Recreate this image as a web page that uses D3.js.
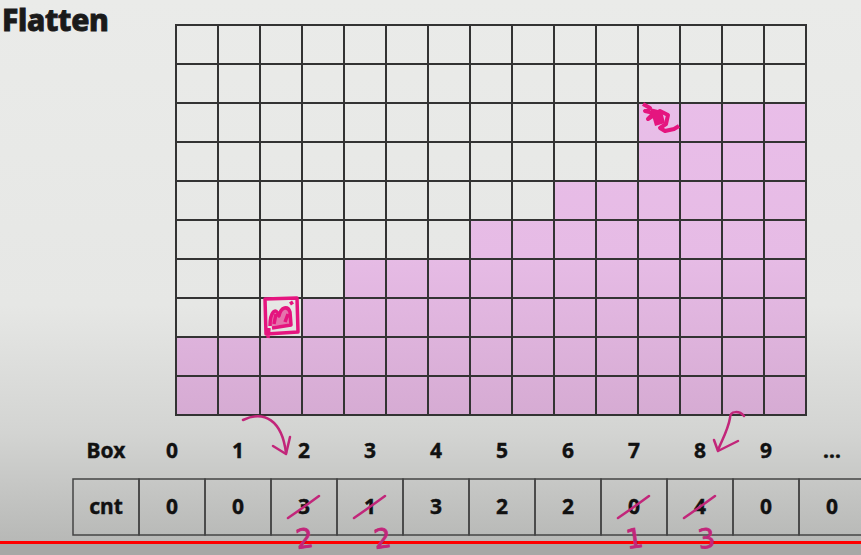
<!DOCTYPE html>
<html><head><meta charset="utf-8">
<script src="https://cdn.jsdelivr.net/npm/d3@7"></script>
<style>html,body{margin:0;padding:0;overflow:hidden;background:#e9eae8}</style>
</head><body>
<script>
// ---- data ----
const columnHeights = [2,2,2,3,4,4,4,5,5,6,6,8,8,8,8];
const gridRows = 10;
const boxLabels = ["0","1","2","3","4","5","6","7","8","9","…"];
const cntValues = [0,0,3,1,3,2,2,0,4,0,0];
const cntCorrected = [null,null,2,2,null,null,null,1,3,null,null];
const movedCells = [{col:2,row:2},{col:11,row:7}];
const arrowTargets = [2,8];

const W=861,H=555;
const svg=d3.select("body").append("svg").attr("width",W).attr("height",H);
const defs=svg.append("defs");
const bg=defs.append("linearGradient").attr("id","bg").attr("x1",0).attr("y1",0).attr("x2",0).attr("y2",1);
bg.append("stop").attr("offset","0").attr("stop-color","#eaebe9");
bg.append("stop").attr("offset","0.55").attr("stop-color","#e6e7e5");
bg.append("stop").attr("offset","0.78").attr("stop-color","#d3d4d2");
bg.append("stop").attr("offset","1").attr("stop-color","#b4b5b3");
svg.append("rect").attr("width",W).attr("height",H).attr("fill","url(#bg)");
const pk=defs.append("linearGradient").attr("id","pk").attr("gradientUnits","userSpaceOnUse")
  .attr("x1",0).attr("y1",25).attr("x2",0).attr("y2",415);
pk.append("stop").attr("offset","0").attr("stop-color","#eabfea");
pk.append("stop").attr("offset","0.6").attr("stop-color","#e6bbe5");
pk.append("stop").attr("offset","1").attr("stop-color","#d6abd3");

// bottom strip below red line
svg.append("rect").attr("x",0).attr("y",544).attr("width",W).attr("height",11).attr("fill","#a7a8a6");
svg.append("rect").attr("x",0).attr("y",541).attr("width",W).attr("height",3).attr("fill","#ff0000");

// title
svg.append("text").attr("x",2).attr("y",31).text("Flatten")
  .attr("font-family","'Noto Sans', sans-serif").attr("font-weight",800).attr("font-size",30)
  .attr("fill","#1a1a1a").attr("letter-spacing",-0.3).attr("stroke","#1a1a1a").attr("stroke-width",0.9);

// grid
const x=d3.scaleBand().domain(d3.range(columnHeights.length)).range([176,806]);
const y=d3.scaleLinear().domain([0,gridRows]).range([415,25]);
const g=svg.append("g");
const cells=[];
columnHeights.forEach((h,c)=>{for(let r=0;r<h;r++)cells.push({c,r});});
g.selectAll("rect.cell").data(cells).join("rect").attr("class","cell")
  .attr("x",d=>x(d.c)).attr("y",d=>y(d.r+1)).attr("width",x.bandwidth()).attr("height",y(0)-y(1))
  .attr("fill","url(#pk)");
g.selectAll("line.v").data(d3.range(columnHeights.length+1)).join("line").attr("class","v")
  .attr("x1",d=>176+d*x.bandwidth()).attr("x2",d=>176+d*x.bandwidth()).attr("y1",y(gridRows)).attr("y2",y(0))
  .attr("stroke","#333").attr("stroke-width",2);
g.selectAll("line.h").data(d3.range(gridRows+1)).join("line").attr("class","h")
  .attr("y1",d=>y(d)).attr("y2",d=>y(d)).attr("x1",175).attr("x2",807)
  .attr("stroke","#333").attr("stroke-width",2);

// moved cells scribbles
const mag="#e5157f";
movedCells.forEach((m,i)=>{
  const cx=x(m.col), cy=y(m.row+1);
  if(i===0){
    g.append("path").attr("d",`M${cx+5},${cy+1} L${cx+37},${cy} L${cx+38},${cy+34} L${cx+6},${cy+36} Z M${cx+8},${cy+40} L${cx+9},${cy+30}`)
      .attr("fill","none").attr("stroke",mag).attr("stroke-width",3.5).attr("stroke-linejoin","round");
    g.append("path").attr("d",`M${cx+10},${cy+28} C${cx+10},${cy+14} ${cx+16},${cy+8} ${cx+19},${cy+18} C${cx+21},${cy+8} ${cx+28},${cy+8} ${cx+30},${cy+14} L${cx+31},${cy+27} L${cx+12},${cy+30} M${cx+14},${cy+26} L${cx+16},${cy+16} M${cx+25},${cy+24} L${cx+28},${cy+16} M${cx+30},${cy+6} L${cx+33},${cy+4}`)
      .attr("fill","none").attr("stroke",mag).attr("stroke-width",3.5).attr("stroke-linejoin","round");
    g.append("path").attr("d",`M${cx+10},${cy+28} C${cx+10},${cy+14} ${cx+16},${cy+8} ${cx+19},${cy+18} C${cx+21},${cy+8} ${cx+28},${cy+8} ${cx+30},${cy+14} L${cx+31},${cy+27} Z`)
      .attr("fill",mag).attr("fill-opacity",0.55);
  } else {
    g.append("path").attr("d",`M${cx+5},${cy+1} l7,4 l-5,3 l9,2 l-6,6 l12,-8 l8,4 l-2,9 l-6,4 l5,3 l9,-2 l5,-3`)
      .attr("fill","none").attr("stroke",mag).attr("stroke-width",4).attr("stroke-linejoin","round");
    g.append("path").attr("d",`M${cx+12},${cy+5} l12,3 l3,12 l-10,3 z`).attr("fill",mag);
  }
});

// table
const tx=d3.scaleBand().domain(d3.range(boxLabels.length)).range([139,139+66*boxLabels.length]);
const font="'Noto Sans', sans-serif";
const txt=(sel)=>sel.attr("font-family",font).attr("font-weight",700).attr("font-size",21).attr("fill","#111")
  .attr("stroke","#111").attr("stroke-width",0.4).attr("text-anchor","middle");
svg.append("text").attr("x",106).attr("y",458).text("Box").call(txt);
svg.selectAll("text.box").data(boxLabels).join("text").attr("class","box")
  .attr("x",(d,i)=>tx(i)+tx.bandwidth()/2).attr("y",458).text(d=>d).call(txt);
const tbl=svg.append("g");
tbl.append("rect").attr("x",73).attr("y",479).attr("width",66).attr("height",56).attr("fill","none").attr("stroke","#444").attr("stroke-width",1.5);
tbl.selectAll("rect.c").data(cntValues).join("rect").attr("class","c")
  .attr("x",(d,i)=>tx(i)).attr("y",479).attr("width",tx.bandwidth()).attr("height",56)
  .attr("fill","none").attr("stroke","#444").attr("stroke-width",1.5);
svg.append("text").attr("x",106).attr("y",514).text("cnt").call(txt);
svg.selectAll("text.cnt").data(cntValues).join("text").attr("class","cnt")
  .attr("x",(d,i)=>tx(i)+tx.bandwidth()/2).attr("y",514).text(d=>d).call(txt);

// handwritten corrections
const hand="#c2267a";
cntCorrected.forEach((v,i)=>{
  if(v===null)return;
  const cx=tx(i)+tx.bandwidth()/2;
  svg.append("path").attr("d",`M${cx-16},${518} Q${cx},${507} ${cx+15},${496}`)
    .attr("fill","none").attr("stroke",hand).attr("stroke-width",2.5).attr("stroke-linecap","round");
  const dx = i===3?12:(i===8?6:0);
  svg.append("text").attr("x",cx+dx).attr("y",548).attr("text-anchor","middle").text(v)
    .attr("font-family","'DejaVu Sans', sans-serif").attr("font-size",27).attr("fill",hand)
    .attr("stroke",hand).attr("stroke-width",0.8)
    .attr("transform",`rotate(-8 ${cx+dx} 536)`);
});
// arrows (hand drawn) pointing at box labels
arrowTargets.forEach((t,k)=>{
  const cx=tx(t)+tx.bandwidth()/2;
  let p,h;
  if(k===0){
    p=`M${cx-61},${420} C${cx-40},${410} ${cx-22},${420} ${cx-18},${453}`;
    h=`M${cx-31},${446} L${cx-18},${454} L${cx-14},${437}`;
  } else {
    p=`M${cx+44},${416} C${cx+40},${411} ${cx+30},${410} ${cx+30},${418} C${cx+28},${430} ${cx+22},${440} ${cx+18},${450}`;
    h=`M${cx+14},${440} L${cx+18},${451} L${cx+38},${441}`;
  }
  svg.append("path").attr("d",p).attr("fill","none").attr("stroke",hand).attr("stroke-width",2.5).attr("stroke-linecap","round");
  svg.append("path").attr("d",h).attr("fill","none").attr("stroke",hand).attr("stroke-width",2.5).attr("stroke-linecap","round").attr("stroke-linejoin","round");
});
</script>
</body></html>
